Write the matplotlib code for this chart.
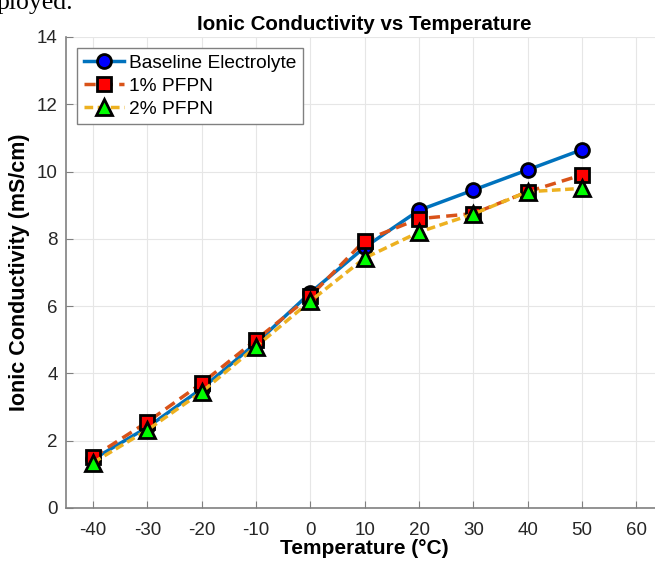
import matplotlib
matplotlib.use("Agg")
import matplotlib.pyplot as plt

temps = [-40, -30, -20, -10, 0, 10, 20, 30, 40, 50]
baseline = [1.45, 2.4, 3.55, 4.9, 6.4, 7.75, 8.85, 9.45, 10.05, 10.65]
pfpn1 = [1.52, 2.56, 3.71, 5.0, 6.3, 7.95, 8.6, 8.75, 9.4, 9.9]
pfpn2 = [1.35, 2.32, 3.45, 4.8, 6.15, 7.43, 8.2, 8.74, 9.4, 9.5]
xticks = [-40, -30, -20, -10, 0, 10, 20, 30, 40, 50, 60]
yticks = [0, 2, 4, 6, 8, 10, 12, 14]

plt.rcParams['font.family'] = ['Liberation Sans', 'DejaVu Sans']
plt.rcParams['axes.unicode_minus'] = False

fig = plt.figure(figsize=(6.55, 5.64), dpi=100)
ax = fig.add_axes([0.1008, 0.0993, 0.912, 0.8351])

ax.plot(temps, baseline, '-', color='#0072BD', lw=2.5, marker='o', ms=10,
        mfc='#0000FF', mec='black', mew=2, label='Baseline Electrolyte', zorder=3)
ax.plot(temps, pfpn1, '--', color='#D95319', lw=2.5, marker='s', ms=9.5,
        mfc='#FF0000', mec='black', mew=2, label='1% PFPN', zorder=4, dashes=(3.2, 1.8))
ax.plot(temps, pfpn2, '--', color='#EDB120', lw=2.5, marker='^', ms=12,
        mfc='#00FF00', mec='black', mew=2, label='2% PFPN', zorder=5, dashes=(2.5, 1.3))

ax.set_xlim(-45, 65)
ax.set_ylim(0, 14)
ax.set_xticks(xticks)
ax.set_yticks(yticks)
ax.grid(True, color='#e6e6e6', lw=0.8)
ax.set_axisbelow(True)
for s in ['top', 'right']:
    ax.spines[s].set_visible(False)
for s in ['left', 'bottom']:
    ax.spines[s].set_color('#808080')
    ax.spines[s].set_linewidth(1.2)
ax.tick_params(direction='in', length=5, color='#808080', labelsize=13.5,
               labelcolor='#262626')
ax.tick_params(axis='y', pad=6)
ax.tick_params(axis='x', pad=10)

ax.set_title('Ionic Conductivity vs Temperature', fontsize=14.8, fontweight='bold', pad=5)
ax.set_xlabel('Temperature (°C)', fontsize=15, fontweight='bold', labelpad=0)
ax.set_ylabel('Ionic Conductivity (mS/cm)', fontsize=15.5, fontweight='bold', labelpad=5)

leg = ax.legend(loc='upper left', fontsize=13.8, frameon=True, fancybox=False,
                edgecolor='#808080', borderpad=0.35, handlelength=2.1,
                handletextpad=0.26, labelspacing=0.28, borderaxespad=0.57,
                framealpha=1)
leg.get_frame().set_linewidth(1.0)

fig.text(-0.005, 0.995, 'ployed.', family='Liberation Serif', fontsize=18.5,
         ha='left', va='center')

fig.savefig('out.png', dpi=100)
